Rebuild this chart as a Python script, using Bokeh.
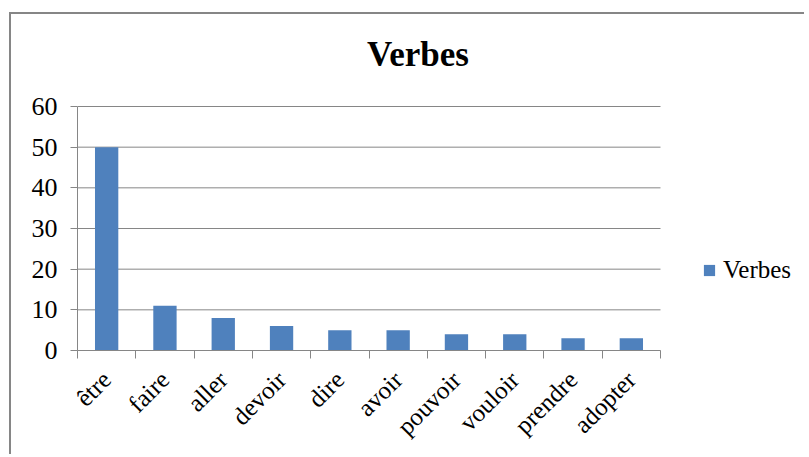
import math
from bokeh.plotting import figure
from bokeh.models import (Range1d, LinearAxis, FixedTicker, Label,
                          Legend, LegendItem, CustomJSTickFormatter,
                          ColumnDataSource)
from bokeh.embed import file_html
from bokeh.resources import INLINE

# ---- data ----
categories = ["être", "faire", "aller", "devoir", "dire", "avoir", "pouvoir", "vouloir", "prendre", "adopter"]
values = [50, 11, 8, 6, 5, 5, 4, 4, 3, 3]
y_ticks = [0, 10, 20, 30, 40, 50, 60]
y_max = 60
series_name = "Verbes"
chart_title = "Verbes"

FONT = "Liberation Serif"
GRAY = "#868686"
BLUE = "#4F81BD"

n = len(categories)
centers = [i + 0.5 for i in range(n)]
bounds = list(range(n + 1))

# layout (pixels inside the canvas)
W, H = 795, 442
LEFT, BOTTOM = 66, 106
PLOT_W, PLOT_H = 583, 244          # visible plot area (categories / 0..60)
frame_w = W - LEFT
frame_h = H - BOTTOM
x_end = n * frame_w / PLOT_W
y_end = y_max * frame_h / PLOT_H

p = figure(width=W, height=H, output_backend="svg", toolbar_location=None,
           x_range=Range1d(0, x_end), y_range=Range1d(0, y_end), x_axis_location=None,
           min_border_left=LEFT, min_border_top=0, min_border_right=0, min_border_bottom=BOTTOM)
p.margin = (12, 0, 0, 9)
p.styles = {"border-left": "2px solid #868686", "border-top": "2px solid #868686"}
p.outline_line_color = None
p.background_fill_color = "white"
p.border_fill_color = "white"
p.xgrid.visible = False
p.ygrid.visible = False

# horizontal gridlines over the plot area only
p.segment(x0=[0] * len(y_ticks), x1=[n] * len(y_ticks), y0=y_ticks, y1=y_ticks,
          line_color=GRAY, line_width=1)

src = ColumnDataSource(dict(x=centers, val=values, cat=categories))
r = p.vbar(x="x", top="val", width=0.4, source=src, fill_color=BLUE, line_color=None)

# y axis
ya = p.yaxis[0]
ya.ticker = FixedTicker(ticks=y_ticks)
ya.bounds = (0, y_max)
ya.axis_line_color = GRAY
ya.major_tick_line_color = GRAY
ya.major_tick_out = 7
ya.major_tick_in = 0
ya.minor_tick_line_color = None
ya.major_label_text_font = FONT
ya.major_label_text_font_size = "26px"
ya.major_label_text_color = "black"
ya.major_label_standoff = 13

# tick-only axis at category boundaries
tick_axis = LinearAxis(ticker=FixedTicker(ticks=bounds), bounds=(0, n),
                       formatter=CustomJSTickFormatter(code="return ''"),
                       major_tick_out=8, major_tick_in=0,
                       minor_tick_line_color=None,
                       axis_line_color=GRAY, major_tick_line_color=GRAY,
                       major_label_standoff=0, major_label_text_font_size="1px")
p.add_layout(tick_axis, "below")

cat_axis = LinearAxis(ticker=FixedTicker(ticks=centers), bounds=(0, n),
                      formatter=CustomJSTickFormatter(args=dict(cats=categories),
                                                      code="return cats[Math.floor(tick)]"),
                      axis_line_color=None, major_tick_line_color=None,
                      minor_tick_line_color=None,
                      major_label_orientation=math.pi / 4,
                      major_label_text_font=FONT,
                      major_label_text_font_size="25px",
                      major_label_text_color="black",
                      major_label_standoff=11)
p.add_layout(cat_axis, "below")

# title
p.add_layout(Label(x=5.84, y=72.8, text=chart_title, text_align="center",
                   text_baseline="alphabetic", text_font=FONT, text_font_style="bold",
                   text_font_size="35px", text_color="black"))

# legend
legend = Legend(items=[LegendItem(label=series_name, renderers=[r])],
                location=(625, 66), glyph_width=14, glyph_height=14,
                label_standoff=7, padding=0, margin=0, spacing=0,
                border_line_color=None, background_fill_alpha=0,
                label_text_font=FONT, label_text_font_size="25px",
                label_text_color="black")
p.add_layout(legend, "center")

open("out.html", "w").write(file_html(p, INLINE))
